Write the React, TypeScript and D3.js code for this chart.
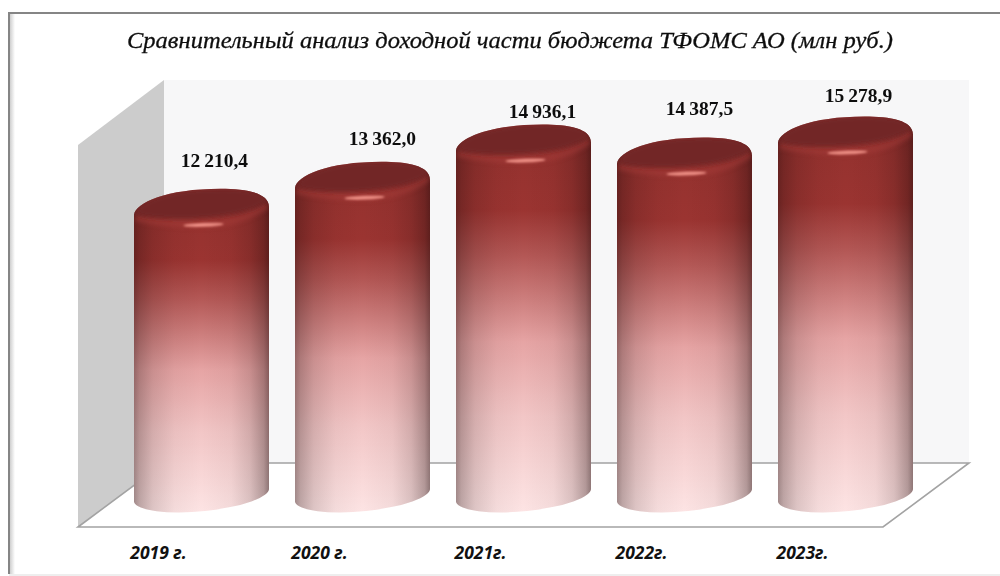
import { useEffect, useRef } from 'react';
import * as d3 from 'd3';

const title = 'Сравнительный анализ доходной части бюджета ТФОМС АО (млн руб.)';
const years = ['2019 г.', '2020 г.', '2021г.', '2022г.', '2023г.'];
const income = [12210.4, 13362.0, 14936.1, 14387.5, 15278.9];
const valueLabels = ['12\u2009210,4', '13\u2009362,0', '14\u2009936,1', '14\u2009387,5', '15\u2009278,9'];

// labels were dragged by hand in the original, so they don't follow the bars exactly
const labelDx = [13, 20, 19, 15, 13];
const labelDy = [-42, -37, -27, -42, -34];

const bodyStops: [number, string][] = [
  [0, '#8c2e2d'], [0.1, '#96322f'], [0.22, '#9b3431'], [0.34, '#b45856'],
  [0.56, '#e6a4a4'], [0.75, '#f2c6c6'], [1, '#fde4e4'],
];
const edgeStops: [number, number][] = [
  [0, 0.4], [0.04, 0.28], [0.14, 0.14], [0.3, 0.04], [0.5, 0],
  [0.72, 0.04], [0.86, 0.15], [0.96, 0.32], [1, 0.48],
];

const App = () => {
  const svgRef = useRef<SVGSVGElement>(null);

  useEffect(() => {
    if (!svgRef.current) return;
    d3.select(svgRef.current).selectAll('*').remove();

    const svg = d3.select(svgRef.current);
    const defs = svg.append('defs');

    const wall = { left: 78, right: 164, end: 969, top: 80, floor: 463, front: 527, slant: 145 };
    const x = d3.scaleBand().domain(years).range([134, 913]).paddingInner(0.1615);
    const y = d3.scaleLinear().domain([0, 16000]).range([497, 119.4]);
    const w = x.bandwidth();

    // Gradients
    const body = defs.append('linearGradient').attr('id', 'body').attr('x1', 0).attr('y1', 0).attr('x2', 0).attr('y2', 1);
    bodyStops.forEach(([o, c]) => body.append('stop').attr('offset', o).attr('stop-color', c));
    const edge = defs.append('linearGradient').attr('id', 'edge');
    edgeStops.forEach(([o, a]) => edge.append('stop').attr('offset', o).attr('stop-color', '#1a0808').attr('stop-opacity', a));
    const frameFade = defs.append('linearGradient').attr('id', 'frameFade');
    frameFade.append('stop').attr('offset', 0).attr('stop-color', '#cfcfcf');
    frameFade.append('stop').attr('offset', 1).attr('stop-color', '#fff');

    defs.append('filter').attr('id', 'blur2').attr('x', '-10%').attr('y', '-30%').attr('width', '120%').attr('height', '160%')
      .append('feGaussianBlur').attr('stdDeviation', 2);
    defs.append('filter').attr('id', 'blur1').attr('x', '-30%').attr('y', '-150%').attr('width', '160%').attr('height', '400%')
      .append('feGaussianBlur').attr('stdDeviation', 1.3);
    defs.append('filter').attr('id', 'blur3').attr('x', '-10%').attr('y', '-80%').attr('width', '120%').attr('height', '260%')
      .append('feGaussianBlur').attr('stdDeviation', 2.4);
    defs.append('filter').attr('id', 'soft').append('feGaussianBlur').attr('stdDeviation', 0.3);

    // Frame
    svg.append('rect').attr('width', 1000).attr('height', 576).attr('fill', '#fff');
    svg.append('rect').attr('x', 10).attr('y', 14).attr('width', 5).attr('height', 560).attr('fill', 'url(#frameFade)');
    svg.append('path').attr('d', 'M9,574V13H1000').attr('fill', 'none').attr('stroke', '#858585').attr('stroke-width', 2);
    svg.append('rect').attr('x', 9).attr('y', 574).attr('width', 991).attr('height', 2).attr('fill', '#eeeeee');

    // Walls and floor
    svg.append('rect').attr('x', wall.right).attr('y', wall.top).attr('width', wall.end - wall.right)
      .attr('height', wall.floor - wall.top).attr('fill', '#f7f7f8');
    svg.append('path')
      .attr('d', `M${wall.left},${wall.slant}L${wall.right},${wall.top}V${wall.floor}L${wall.left},${wall.front}Z`)
      .attr('fill', '#cccccc');
    svg.append('path')
      .attr('d', `M${wall.left},${wall.front}L${wall.right},${wall.floor}H${wall.end}L${wall.end - 86},${wall.front}Z`)
      .attr('fill', '#fff').attr('stroke', '#a3a3a3').attr('stroke-width', 1.6);

    // Cylinders
    years.forEach((year, i) => {
      const x0 = x(year) || 0;
      const x1 = x0 + w;
      const cx = x0 + w / 2;
      const top = y(income[i]);
      const base = y(0) - 2;
      const at = (dx: number, dy: number) => `${cx + dx},${top + dy}`;

      // upper edge of the cylinder is fuller than an ellipse, rounded at the shoulders
      const d = `M${x0},${top + 6}V${base + 7}A${w / 2 + 0.4},16.5 -5.5 0 0 ${x1},${base - 7}V${top - 2}`
        + `C${at(w / 2, -16)} ${at(45, -20)} ${at(19, -20)}C${at(-35, -20)} ${at(-w / 2 + 1.5, -6)} ${x0},${top + 6}Z`;
      const g = svg.append('g');

      g.append('path').attr('d', d).attr('fill', 'url(#body)');
      g.append('path').attr('d', d).attr('fill', 'url(#edge)');

      const clipId = `cyl${i}`;
      defs.append('clipPath').attr('id', clipId).append('path').attr('d', d);
      const cap = g.append('g').attr('clip-path', `url(#${clipId})`);

      // Lit rim under the cap
      cap.append('path')
        .attr('d', `M${at(-66, 9)}C${at(-40, 15)} ${at(-15, 16)} ${at(10, 15)}C${at(35, 14)} ${at(55, 4)} ${at(66, -4)}`)
        .attr('fill', 'none').attr('stroke', '#a83d3a').attr('stroke-width', 6).attr('opacity', 0.55)
        .attr('filter', 'url(#blur3)');

      // Dark face of the cap
      cap.append('path')
        .attr('d', `M${at(-w / 2 + 1, 5)}C${at(-w / 2 + 2.5, -6)} ${at(-35, -20)} ${at(19, -20)}`
          + `C${at(45, -20)} ${at(w / 2, -16)} ${at(w / 2 - 1, -8)}`
          + `C${at(50, 5)} ${at(10, 10)} ${at(-20, 10)}C${at(-40, 10)} ${at(-60, 8)} ${at(-w / 2 + 1, 5)}Z`)
        .attr('fill', '#722827').attr('filter', 'url(#blur2)');

      // Rim highlight
      g.append('ellipse')
        .attr('rx', 20).attr('ry', 1.7)
        .attr('transform', `translate(${cx + 2},${top + 16}) rotate(-2)`)
        .attr('fill', '#f4958b').attr('filter', 'url(#blur1)');
    });

    // Value labels
    svg.append('g').selectAll('text')
      .data(valueLabels)
      .enter()
      .append('text')
      .attr('x', (_, i) => (x(years[i]) || 0) + w / 2 + labelDx[i])
      .attr('y', (_, i) => y(income[i]) + labelDy[i])
      .attr('text-anchor', 'middle')
      .attr('font-family', '"Liberation Serif"')
      .attr('font-weight', 'bold')
      .attr('font-size', 19.5)
      .attr('fill', '#111')
      .attr('filter', 'url(#soft)')
      .text(d => d);

    // Category labels sit left of the bars in the original
    svg.append('g').selectAll('text')
      .data(years)
      .enter()
      .append('text')
      .attr('x', d => (x(d) || 0) + w / 2 - 43)
      .attr('y', 559)
      .attr('text-anchor', 'middle')
      .attr('font-family', '"Open Sans"')
      .attr('font-weight', 'bold')
      .attr('font-style', 'italic')
      .attr('font-size', 17.5)
      .attr('fill', '#111')
      .text(d => d);

    svg.append('text')
      .attr('x', 510)
      .attr('y', 48)
      .attr('text-anchor', 'middle')
      .attr('font-family', '"Liberation Serif"')
      .attr('font-style', 'italic')
      .attr('font-size', 23)
      .attr('textLength', 766)
      .attr('lengthAdjust', 'spacingAndGlyphs')
      .attr('fill', '#111')
      .attr('stroke', '#111')
      .attr('stroke-width', 0.3)
      .attr('filter', 'url(#soft)')
      .text(title);
  }, []);

  return (
    <svg
      ref={svgRef}
      width={1000}
      height={576}
      style={{ position: 'absolute', left: 0, top: 0 }}
    />
  );
};

export default App;
